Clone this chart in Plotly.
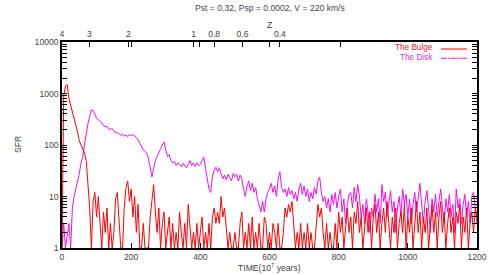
import plotly.graph_objects as go

# ---------------- data ----------------
time = list(range(0, 1201, 5))

bulge_rows = [
    [1, 900, 1400, 1500, 800, 600, 450, 320, 250, 180, 120, 100, 85, 70, 50, 20, 6, 1, 8, 12],
    [4, 10, 3, 1, 5, 2, 6, 1, 3, 1, 2, 9, 12, 3, 1, 1, 6, 15, 20, 8],
    [14, 4, 10, 2, 7, 1, 1, 3, 1, 1, 1, 4, 10, 17, 5, 2, 6, 1, 3, 5],
    [1, 2, 4, 1, 3, 1, 2, 1, 5, 2, 1, 3, 1, 7, 3, 1, 2, 1, 3, 1],
    [2, 4, 1, 2, 1, 3, 1, 4, 6, 3, 5, 3, 10, 4, 6, 2, 1, 2, 1, 1],
    [2, 1, 1, 3, 5, 1, 2, 1, 3, 1, 4, 1, 2, 1, 3, 1, 1, 4, 3, 1],
    [2, 1, 3, 2, 1, 3, 1, 1, 2, 6, 4, 7, 5, 8, 3, 1, 2, 1, 3, 1],
    [2, 1, 3, 1, 2, 1, 1, 3, 7, 4, 6, 2, 1, 3, 1, 2, 1, 1, 3, 1],
    [5, 2, 4, 1, 3, 6, 2, 4, 1, 5, 3, 8, 2, 4, 1, 3, 6, 2, 5, 1],
    [4, 7, 2, 5, 1, 3, 6, 2, 8, 3, 1, 4, 2, 6, 1, 3, 5, 2, 7, 1],
    [4, 2, 6, 1, 3, 8, 2, 5, 1, 4, 2, 6, 1, 3, 7, 2, 5, 1, 4, 8],
    [2, 5, 1, 3, 6, 2, 4, 1, 5, 3, 7, 1, 4, 2, 6, 1, 3, 5, 2, 6],
    [4],
]

disk_rows = [
    [1, 3, 1, 2, 3, 1, 6, 10, 14, 20, 28, 45, 60, 100, 170, 260, 360, 480, 470, 400],
    [330, 310, 290, 270, 240, 225, 230, 205, 200, 210, 190, 170, 175, 165, 155, 160, 150, 155, 145, 160],
    [150, 160, 150, 140, 125, 105, 90, 80, 75, 70, 55, 37, 24, 35, 50, 60, 75, 85, 100, 115],
    [80, 60, 65, 50, 45, 48, 40, 45, 42, 38, 44, 40, 36, 42, 50, 40, 45, 38, 45, 40],
    [42, 50, 58, 35, 22, 14, 12, 25, 32, 37, 30, 36, 28, 22, 26, 21, 27, 23, 20, 28],
    [24, 27, 20, 26, 22, 14, 10, 16, 20, 13, 18, 12, 15, 9, 7, 5, 8, 5, 9, 12],
    [14, 18, 12, 16, 10, 22, 30, 15, 12, 14, 10, 15, 11, 13, 9, 12, 8, 14, 18, 11],
    [16, 10, 14, 8, 12, 9, 15, 11, 20, 24, 12, 8, 10, 6, 9, 5, 11, 7, 12, 6],
    [10, 14, 5, 9, 3, 7, 11, 12, 6, 15, 8, 17, 10, 4, 7, 3, 9, 5, 2, 6],
    [4, 11, 5, 9, 3, 17, 8, 12, 4, 7, 13, 5, 8, 2, 6, 10, 4, 14, 7, 11],
    [4, 9, 3, 7, 12, 5, 10, 18, 7, 3, 8, 13, 6, 2, 9, 5, 11, 4, 8, 14],
    [6, 3, 9, 5, 11, 4, 7, 2, 14, 6, 9, 3, 7, 11, 4, 8, 3, 10, 12, 5],
    [3],
]

bulge = [v for row in bulge_rows for v in row]
disk = [v for row in disk_rows for v in row]

x_ticks = [0, 200, 400, 600, 800, 1000, 1200]
y_ticks = [1, 10, 100, 1000, 10000]
y_labels = ["1", "10", "100", "1000", "10000"]
y_minor = [m * 10 ** d for d in range(4) for m in range(2, 10)]
z_tick_times = [0, 79, 192, 381, 440, 522, 630]
z_tick_labels = ["4", "3", "2", "1", "0.8", "0.6", "0.4"]
z_extra_ticks = [200, 398, 601, 805]

FONT = "Liberation Sans, Arial, sans-serif"
TXT = "#444444"
FS = 8.6

fig = go.Figure()
fig.add_trace(go.Scatter(x=time, y=disk, mode="lines", name="The Disk",
                         line=dict(color="#ee10ee", width=1), showlegend=False))
fig.add_trace(go.Scatter(x=time, y=bulge, mode="lines", name="The Bulge",
                         line=dict(color="#ff0000", width=1), showlegend=False))
fig.add_trace(go.Scatter(x=[0, 1200], y=[1, 1], xaxis="x2", mode="lines",
                         line=dict(width=0), showlegend=False, hoverinfo="skip"))

axis_common = dict(showgrid=False, zeroline=False, showline=True, linecolor="black",
                   linewidth=1.5, ticks="inside", ticklen=5, tickcolor="black",
                   tickfont=dict(family=FONT, size=FS, color=TXT))

fig.update_layout(
    width=497, height=275,
    margin=dict(l=62, r=10, t=42, b=27),
    paper_bgcolor="white", plot_bgcolor="white",
    showlegend=False,
    font=dict(family=FONT, size=FS, color=TXT),
    xaxis=dict(range=[0, 1200], tickvals=x_ticks, **axis_common),
    xaxis2=dict(range=[0, 1200], overlaying="x", side="top", anchor="y",
                tickvals=z_tick_times, ticktext=z_tick_labels,
                minor=dict(ticks="inside", ticklen=5, tickcolor="black", showgrid=False,
                           tickvals=z_extra_ticks),
                **axis_common),
    yaxis=dict(type="log", range=[0, 4], tickvals=y_ticks, ticktext=y_labels,
               mirror="allticks",
               minor=dict(ticks="inside", ticklen=3, tickcolor="black", showgrid=False,
                          tickvals=y_minor),
               **axis_common),
)

ann = [
    dict(text="Pst = 0.32, Psp = 0.0002, V = 220 km/s", x=0.501, y=1.165),
    dict(text="Z", x=0.501, y=1.083),
    dict(text="TIME(10<sup>7</sup> years)", x=0.501, y=-0.095),
    dict(text="SFR", x=-0.106, y=0.5, textangle=-90),
]
for a in ann:
    fig.add_annotation(xref="paper", yref="paper", showarrow=False, yanchor="middle",
                       xanchor="center", font=dict(family=FONT, size=FS, color=TXT), **a)

LFS = 8.2
fig.add_annotation(xref="paper", yref="paper", x=0.899, y=0.971, xanchor="right",
                   yanchor="middle", text="The Bulge", showarrow=False,
                   font=dict(family=FONT, size=LFS, color="#e82020"))
fig.add_annotation(xref="paper", yref="paper", x=0.899, y=0.925, xanchor="right",
                   yanchor="middle", text="The Disk", showarrow=False,
                   font=dict(family=FONT, size=LFS, color="#d030d8"))
fig.add_shape(type="line", xref="paper", yref="paper", x0=0.913, x1=0.976,
              y0=0.966, y1=0.966, line=dict(color="#ff0000", width=1))
fig.add_shape(type="line", xref="paper", yref="paper", x0=0.913, x1=0.976,
              y0=0.921, y1=0.921, line=dict(color="#ee10ee", width=1, dash="6px,1px,2px,1px"))

fig.write_html("out.html", config={"displayModeBar": False},
               post_script="document.body.style.margin='0';")
